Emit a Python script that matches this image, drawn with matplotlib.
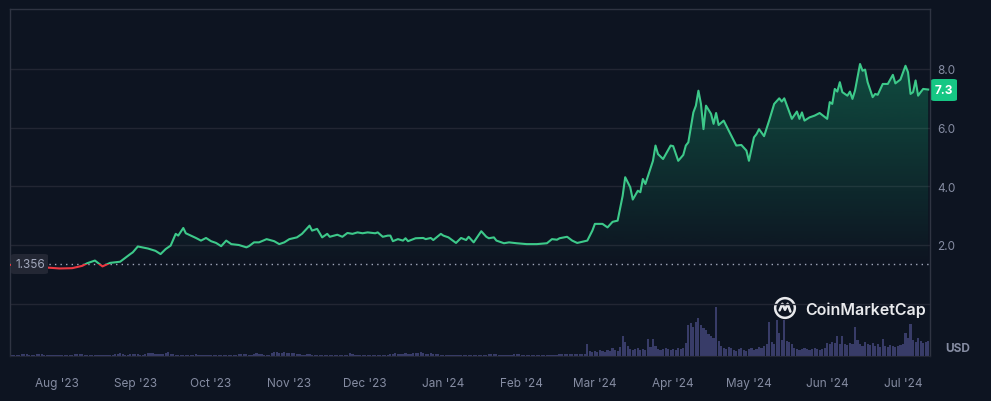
import matplotlib
matplotlib.use('Agg')
import matplotlib.pyplot as plt
import matplotlib.dates as mdates
from matplotlib.patches import Rectangle, Circle, FancyBboxPatch
from matplotlib.path import Path
import numpy as np
import pandas as pd

plt.rcParams['font.family'] = ['Inter', 'DejaVu Sans']

# price series (USD)
price_dates = [
    '2023-07-13', '2023-07-16', '2023-07-25', '2023-08-02', '2023-08-07', '2023-08-11',
    '2023-08-13', '2023-08-16', '2023-08-19', '2023-08-22', '2023-08-26', '2023-08-30',
    '2023-08-31', '2023-09-02', '2023-09-06', '2023-09-09', '2023-09-11', '2023-09-13',
    '2023-09-15', '2023-09-17', '2023-09-18', '2023-09-20', '2023-09-21', '2023-09-23',
    '2023-09-25', '2023-09-27', '2023-09-29', '2023-10-01', '2023-10-03', '2023-10-05',
    '2023-10-07', '2023-10-09', '2023-10-12', '2023-10-15', '2023-10-16', '2023-10-18',
    '2023-10-20', '2023-10-23', '2023-10-26', '2023-10-28', '2023-10-30', '2023-11-01',
    '2023-11-04', '2023-11-06', '2023-11-09', '2023-11-10', '2023-11-12', '2023-11-14',
    '2023-11-16', '2023-11-17', '2023-11-20', '2023-11-22', '2023-11-24', '2023-11-26',
    '2023-11-28', '2023-11-30', '2023-12-02', '2023-12-05', '2023-12-06', '2023-12-08',
    '2023-12-10', '2023-12-11', '2023-12-12', '2023-12-14', '2023-12-16', '2023-12-17',
    '2023-12-18', '2023-12-21', '2023-12-24', '2023-12-25', '2023-12-27', '2023-12-28',
    '2023-12-31', '2024-01-01', '2024-01-03', '2024-01-06', '2024-01-08', '2024-01-10',
    '2024-01-11', '2024-01-13', '2024-01-16', '2024-01-18', '2024-01-19', '2024-01-21',
    '2024-01-22', '2024-01-25', '2024-01-27', '2024-01-30', '2024-02-03', '2024-02-07',
    '2024-02-11', '2024-02-13', '2024-02-15', '2024-02-16', '2024-02-19', '2024-02-21',
    '2024-02-23', '2024-02-27', '2024-02-29', '2024-03-01', '2024-03-04', '2024-03-06',
    '2024-03-08', '2024-03-10', '2024-03-12', '2024-03-13', '2024-03-15', '2024-03-16',
    '2024-03-18', '2024-03-19', '2024-03-20', '2024-03-21', '2024-03-24', '2024-03-25',
    '2024-03-26', '2024-03-28', '2024-03-31', '2024-04-01', '2024-04-03', '2024-04-05',
    '2024-04-06', '2024-04-07', '2024-04-09', '2024-04-10', '2024-04-11', '2024-04-12',
    '2024-04-13', '2024-04-14', '2024-04-16', '2024-04-17', '2024-04-18', '2024-04-19',
    '2024-04-21', '2024-04-23', '2024-04-26', '2024-04-28', '2024-04-30', '2024-05-01',
    '2024-05-03', '2024-05-04', '2024-05-05', '2024-05-07', '2024-05-09', '2024-05-11',
    '2024-05-13', '2024-05-14', '2024-05-15', '2024-05-18', '2024-05-20', '2024-05-21',
    '2024-05-22', '2024-05-23', '2024-05-25', '2024-05-27', '2024-05-29', '2024-06-01',
    '2024-06-02', '2024-06-03', '2024-06-04', '2024-06-05', '2024-06-06', '2024-06-07',
    '2024-06-09', '2024-06-10', '2024-06-11', '2024-06-12', '2024-06-14', '2024-06-15',
    '2024-06-16', '2024-06-17', '2024-06-19', '2024-06-20', '2024-06-21', '2024-06-23',
    '2024-06-25', '2024-06-27', '2024-06-28', '2024-06-30', '2024-07-02', '2024-07-03',
    '2024-07-04', '2024-07-05', '2024-07-06', '2024-07-07', '2024-07-08', '2024-07-09',
    '2024-07-11',
]
prices = [
    1.33, 1.30, 1.25, 1.20, 1.21, 1.29,
    1.38, 1.47, 1.27, 1.39, 1.43, 1.69,
    1.75, 1.95, 1.88, 1.80, 1.69, 1.86,
    1.98, 2.38, 2.32, 2.58, 2.40, 2.32,
    2.24, 2.15, 2.24, 2.13, 2.07, 1.96,
    2.15, 2.03, 2.00, 1.92, 1.96, 2.09,
    2.09, 2.20, 2.13, 2.03, 2.09, 2.20,
    2.26, 2.38, 2.66, 2.49, 2.55, 2.26,
    2.38, 2.28, 2.35, 2.28, 2.41, 2.38,
    2.43, 2.40, 2.43, 2.40, 2.43, 2.28,
    2.32, 2.32, 2.13, 2.20, 2.15, 2.23,
    2.13, 2.23, 2.24, 2.20, 2.24, 2.17,
    2.38, 2.32, 2.26, 2.07, 2.24, 2.17,
    2.28, 2.09, 2.47, 2.28, 2.23, 2.26,
    2.15, 2.06, 2.09, 2.06, 2.03, 2.03,
    2.06, 2.20, 2.18, 2.23, 2.28, 2.15,
    2.07, 2.15, 2.49, 2.72, 2.72, 2.60,
    2.79, 2.83, 3.68, 4.31, 3.97, 3.55,
    3.85, 3.80, 4.25, 4.08, 4.87, 5.39,
    5.10, 4.93, 5.39, 5.37, 4.87, 5.07,
    5.39, 5.50, 6.52, 6.75, 7.26, 6.81,
    5.95, 6.75, 6.47, 6.13, 6.50, 6.09,
    6.24, 5.90, 5.39, 5.41, 5.22, 4.87,
    5.67, 5.78, 5.95, 5.71, 6.24, 6.81,
    7.00, 6.89, 7.00, 6.30, 6.55, 6.30,
    6.52, 6.24, 6.35, 6.41, 6.50, 6.30,
    6.87, 6.81, 7.32, 7.23, 7.55, 7.21,
    7.09, 7.23, 6.98, 7.26, 8.17, 7.94,
    7.98, 7.55, 7.04, 7.15, 7.12, 7.49,
    7.49, 7.80, 7.51, 7.64, 8.11, 7.89,
    7.15, 7.21, 7.61, 7.09, 7.21, 7.32,
    7.30,
]
base_price = 1.356
last_price = 7.3

# daily volume (relative units), 2023-07-13 .. 2024-07-11
vol_start = '2023-07-13'
volume = (
    [1, 1, 1, 1, 1, 1.5, 2, 1.5, 1, 1, 1, 1.5, 2, 1.5, 1, 1, 1, 1, 1]                       # Jul
    + [1, 1, 1, 1, 1, 1, 1, 2, 2, 1.5, 2, 1, 1, 1, 1, 1, 1, 1, 1, 1, 1, 1, 1, 2, 2, 2.5, 2, 1, 1, 1.5, 2]  # Aug
    + [1.5, 1.5, 1, 1, 2, 3, 2.5, 3, 2, 2, 1.5, 1.5, 2.5, 3.5, 2, 1.5, 1, 1, 1, 1, 1, 1, 1, 1, 1.5, 1, 1, 1, 1, 1]  # Sep
    + [1, 1, 1, 1, 1, 1, 1, 1, 1, 1, 1, 1.5, 2, 2, 1.5, 1, 1, 2, 2.5, 2, 1.5, 1, 1, 1, 3, 4, 3.5, 3, 3, 3.5, 3]  # Oct
    + [3, 2.5, 2.5, 2, 1.5, 1, 1, 1.5, 1.5, 1, 1, 1, 1, 1, 1, 1, 1, 1, 1, 1, 1, 1, 1, 1, 3, 2, 1, 1, 1, 1]  # Nov
    + [1, 1, 1, 1, 1, 1, 1, 1, 1, 1, 2, 2, 2.5, 2, 2, 2, 2.5, 2, 2, 2.5, 3, 2.5, 3.5, 2.5, 2, 2, 2.5, 2, 2, 1.5, 1]  # Dec
    + [1, 1, 1, 1, 1, 1, 1, 1, 1, 1, 1, 1, 1, 1, 1, 1, 1, 1, 1.5, 2, 2, 1.5, 1, 1, 1, 1, 1, 1, 1.5, 2, 1.5]  # Jan
    + [1, 1, 1, 1, 1, 1, 1, 1, 1, 1, 1, 1, 1, 1, 1, 1.5, 2, 2, 2, 2, 1.5, 1.5, 2, 1.5, 1.5, 2, 12, 5, 4]  # Feb
    + [5, 4, 6, 5, 4, 6, 5, 8, 6, 5, 9, 20, 14, 10, 7, 6, 7, 8, 6, 7, 6, 17, 9, 17, 10, 7, 6, 7, 8, 7, 6]  # Mar
    + [7, 6, 8, 7, 8, 13, 30, 32, 28, 33, 37, 30, 27, 25, 22, 20, 18, 48, 15, 10, 8, 7, 9, 8, 6, 5, 7, 8, 6, 5]  # Apr
    + [7, 8, 6, 7, 9, 8, 10, 12, 33, 14, 12, 35, 23, 16, 35, 15, 14, 12, 8, 7, 6, 7, 8, 7, 6, 7, 8, 7, 6, 7, 8]  # May
    + [13, 12, 14, 13, 20, 12, 20, 12, 11, 13, 12, 28, 16, 12, 10, 14, 12, 11, 13, 10, 12, 9, 17, 10, 9, 11, 10, 9, 10, 11]  # Jun
    + [12, 23, 18, 31, 16, 14, 18, 15, 13, 14, 15]  # Jul
)

bg = '#0d1421'
grid_c = '#222633'
frame_c = '#2f3442'
tick_c = '#858ca2'
green = '#3dc98a'
red = '#ea3943'

W, H = 991, 402
fig = plt.figure(figsize=(W / 100, H / 100), dpi=100, facecolor=bg)
rect = [10 / W, (H - 357) / H, 920 / W, 347 / H]

ax_v = fig.add_axes(rect)
ax = fig.add_axes(rect, sharex=ax_v)
ax.set_zorder(2)
ax.patch.set_visible(False)
ax_v.set_facecolor(bg)

x = mdates.date2num(pd.to_datetime(price_dates))
y = np.array(prices)
xlim = mdates.date2num(pd.to_datetime(['2023-07-13 09:00', '2024-07-11 17:00']))

# volume bars
vdates = mdates.date2num(pd.date_range(vol_start, periods=len(volume), freq='D'))
ax_v.bar(vdates, volume, width=0.85, color='#3d4170', alpha=0.9, linewidth=0)
ax_v.set_ylim(0, 340)
ax_v.set_yticks([])
for s in ax_v.spines.values():
    s.set_visible(False)
ax_v.tick_params(axis='x', length=0, labelbottom=False)

# price axis
ax.set_xlim(xlim)
ax.set_ylim(-1.784, 10.045)
for yy in [0, 2, 4, 6, 8]:
    ax.axhline(yy, color=grid_c, lw=1, zorder=0)

# gradient fill between line and base
poly = ax.fill_between(x, y, base_price, where=y >= base_price, interpolate=True,
                       facecolor='none', edgecolor='none')
clip = Path.make_compound_path(*poly.get_paths())
grad = np.zeros((256, 1, 4))
grad[:, 0, :3] = matplotlib.colors.to_rgb('#16c784')
grad[:, 0, 3] = np.linspace(0.0, 0.32, 256)
im = ax.imshow(grad, extent=[xlim[0], xlim[1], base_price, 8.3], origin='lower',
               aspect='auto', zorder=1)
im.set_clip_path(clip, transform=ax.transData)

# line, green above base, red below
ln_g, = ax.plot(x, y, color=green, lw=1.5, zorder=3, solid_joinstyle='round')
ln_r, = ax.plot(x, y, color=red, lw=1.5, zorder=3, solid_joinstyle='round')
ln_g.set_clip_path(Rectangle((xlim[0], base_price), xlim[1] - xlim[0], 20, transform=ax.transData))
ln_r.set_clip_path(Rectangle((xlim[0], -5), xlim[1] - xlim[0], base_price + 5, transform=ax.transData))

ax.axhline(base_price, color='#a1a7bb', lw=1, ls=(0, (1, 3)), zorder=2)

ax.set_yticks([2, 4, 6, 8])
ax.set_yticklabels(['2.0', '4.0', '6.0', '8.0'])
ax.yaxis.tick_right()
ax.tick_params(axis='y', length=0, pad=5, labelsize=8.5, labelcolor=tick_c)
ax.xaxis.set_major_locator(mdates.MonthLocator())
ax.xaxis.set_major_formatter(mdates.DateFormatter("%b '%y"))
ax.tick_params(axis='x', length=0, pad=15, labelsize=8.5, labelcolor=tick_c)
for s in ['left', 'top', 'right']:
    ax.spines[s].set_color(frame_c)
    ax.spines[s].set_linewidth(1)
ax.spines['bottom'].set_color(grid_c)

# price badges
fig.patches.append(FancyBboxPatch((931 / W, (H - 102) / H), 26 / W, 22 / H,
                                  boxstyle='round,pad=0,rounding_size=0.004',
                                  transform=fig.transFigure, facecolor='#16c784',
                                  edgecolor='none'))
fig.text(944 / W, (H - 91) / H, f'{last_price}', color='white', fontsize=8.5,
         fontweight='bold', ha='center', va='center')
fig.patches.append(FancyBboxPatch((11 / W, (H - 275) / H), 37 / W, 20 / H,
                                  boxstyle='round,pad=0,rounding_size=0.004',
                                  transform=fig.transFigure, facecolor='#232734',
                                  edgecolor='none', zorder=5))
fig.text(30 / W, (H - 265) / H, f'{base_price}', color='#a1a7bb', fontsize=8.5,
         ha='center', va='center', zorder=6)

fig.text(945 / W, (H - 349) / H, 'USD', color=tick_c, fontsize=8.5,
         fontweight='bold', ha='left', va='center')

# watermark
lg = fig.add_axes([773 / W, (H - 321) / H, 24 / W, 24 / H])
lg.set_xlim(-1, 1)
lg.set_ylim(-1, 1)
lg.axis('off')
lg.add_patch(Circle((0, 0), 0.82, fill=False, edgecolor='#e8e9ec', lw=1.8))
lg.plot([-0.45, -0.22, 0.0, 0.22, 0.45], [-0.2, 0.35, -0.15, 0.35, -0.3],
        color='#e8e9ec', lw=1.8, solid_capstyle='round', solid_joinstyle='round')
fig.text(805 / W, (H - 310) / H, 'CoinMarketCap', color='#e8e9ec', fontsize=11.5,
         fontweight='semibold', ha='left', va='center')

fig.savefig('out.png', dpi=100, facecolor=bg)
